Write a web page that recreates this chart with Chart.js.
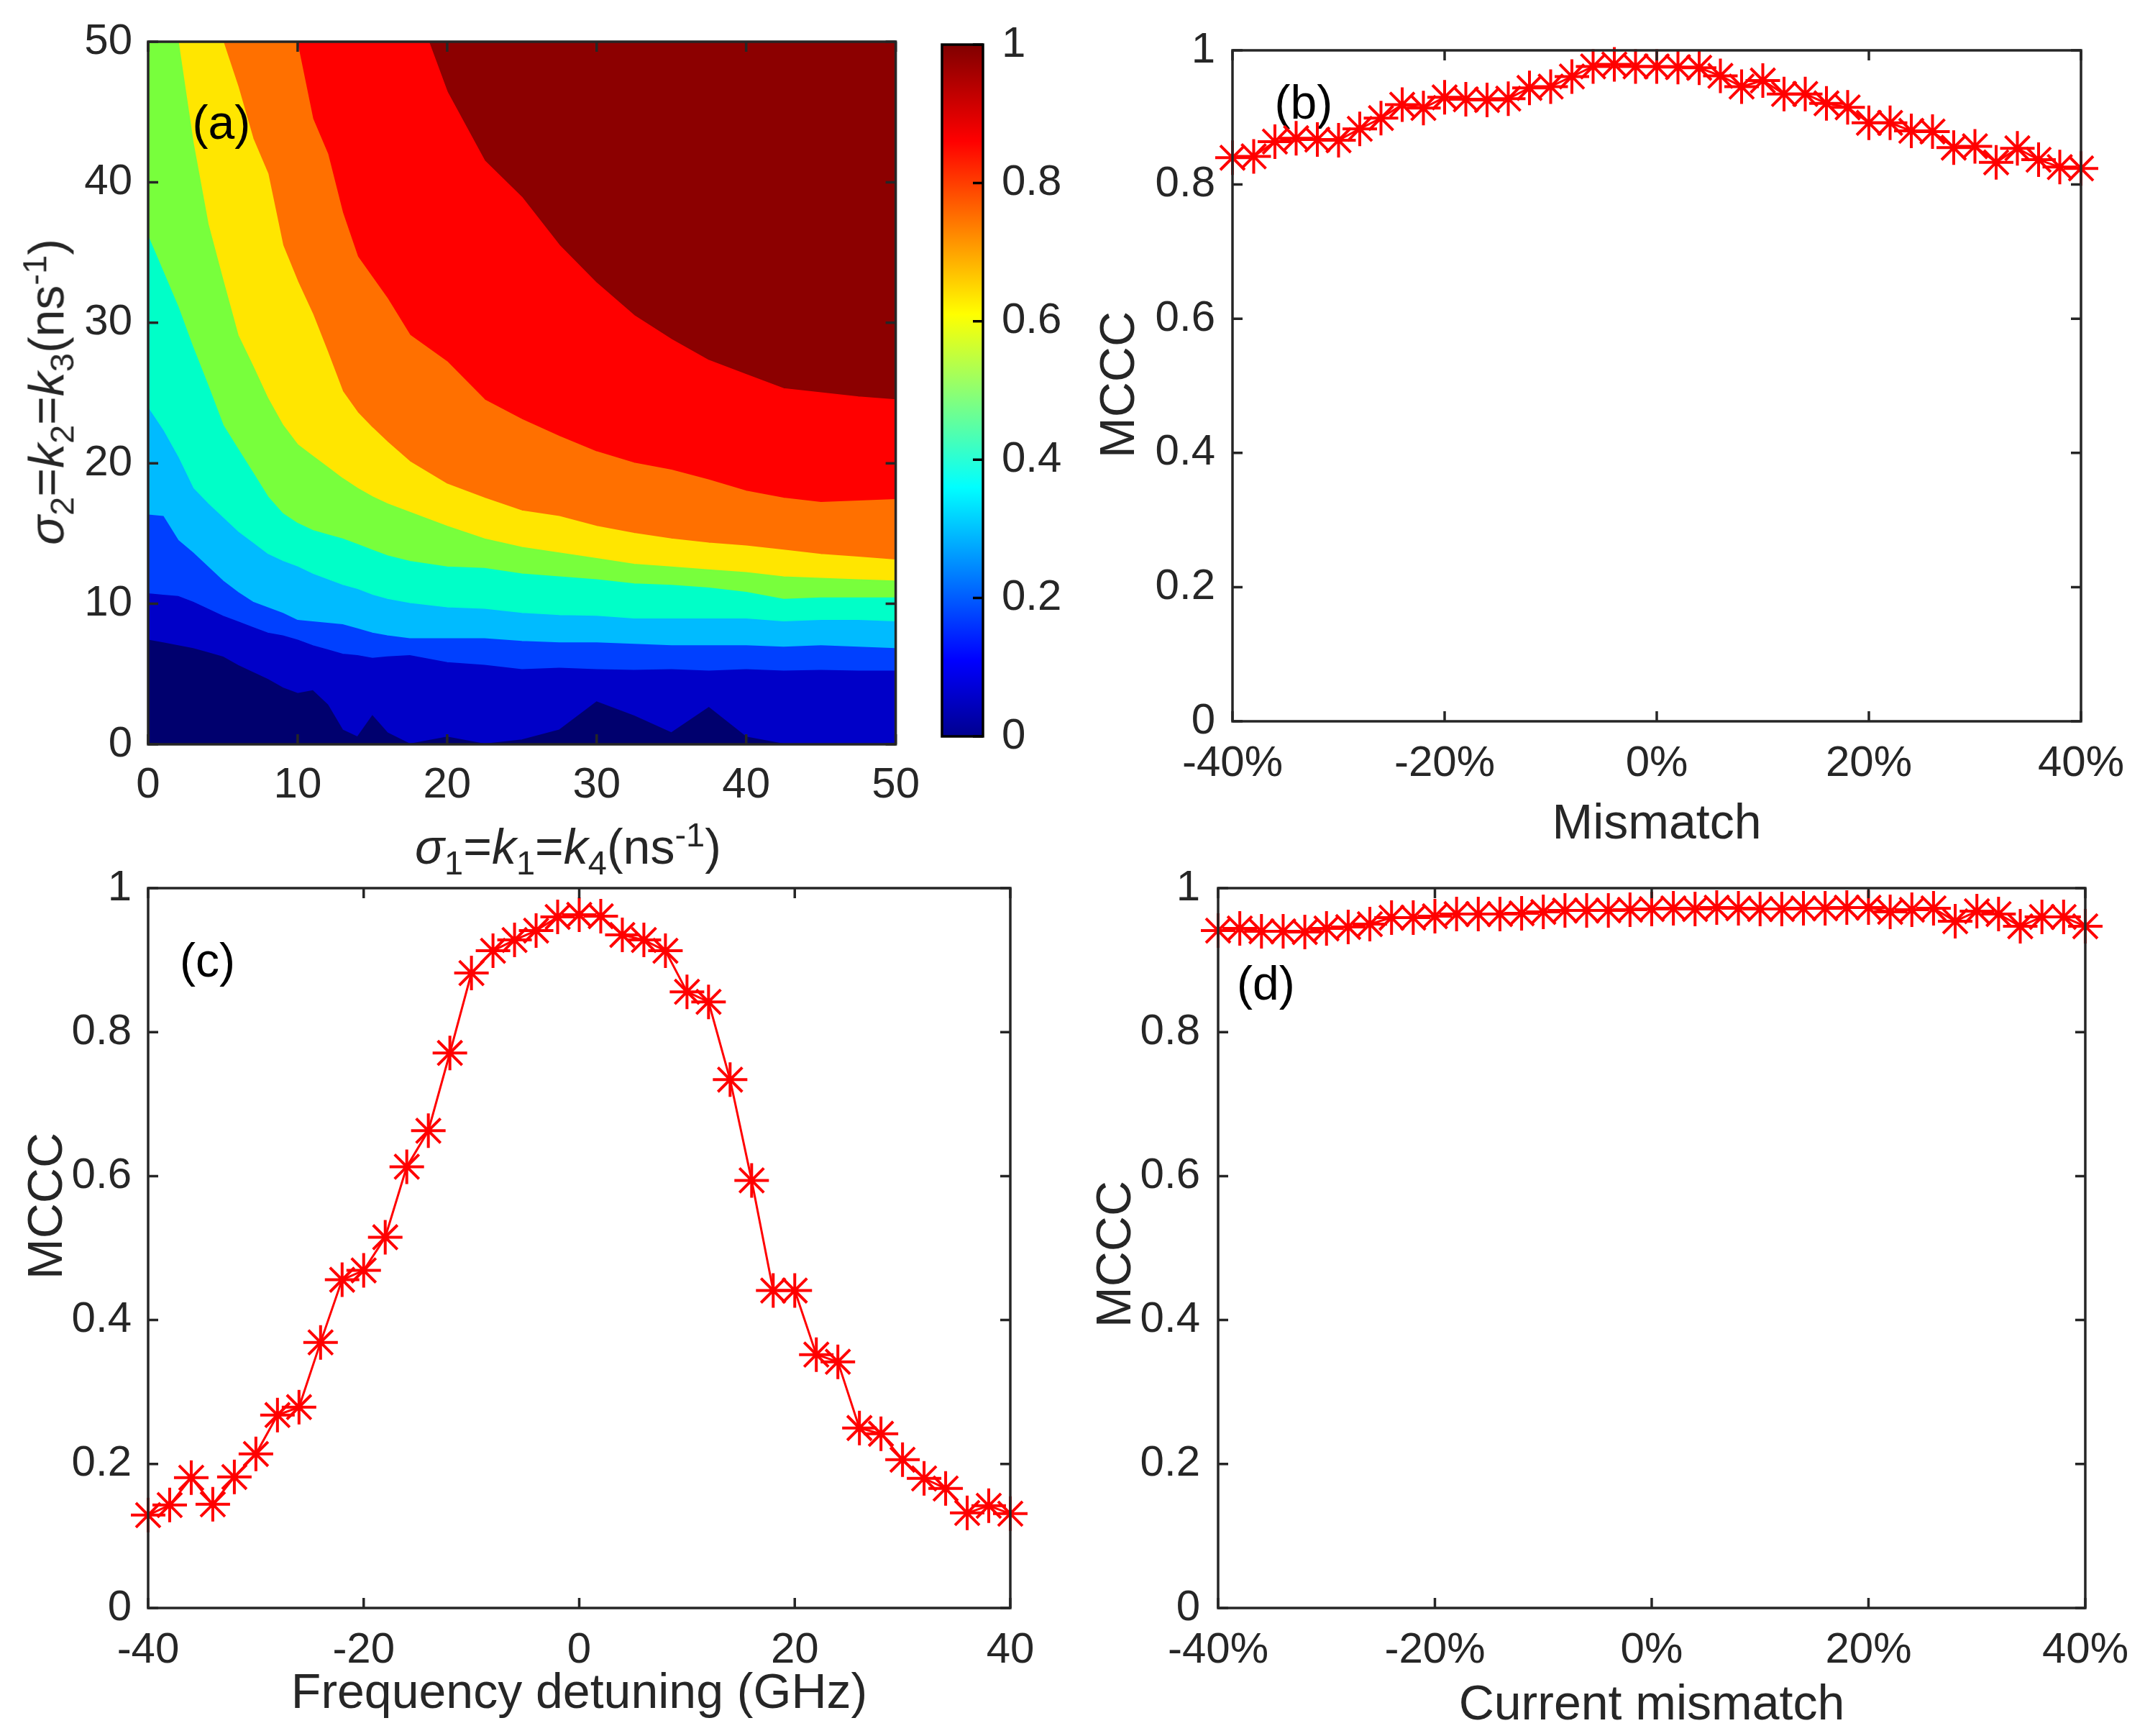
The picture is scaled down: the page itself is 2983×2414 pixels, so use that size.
<!DOCTYPE html>
<html>
<head>
<meta charset="utf-8">
<script src="https://cdn.jsdelivr.net/npm/chart.js@4.4.1/dist/chart.umd.min.js"></script>
<style>
  html, body { margin: 0; padding: 0; background: #fff; overflow: hidden; }
  body { width: 2983px; height: 2414px; position: relative; font-family: "Liberation Sans", Arial, sans-serif; }
  canvas { position: absolute; }
  .axis-title { position: absolute; font-size: 68px; color: #262626; white-space: nowrap; line-height: 1; }
  .axis-title sub, .axis-title sup { font-size: 47px; }
  #titleAx { left: 790px; top: 1180px; transform: translate(-50%, -50%); }
  #titleAy { left: 67px; top: 545px; transform: translate(-50%, -50%) rotate(-90deg); }
</style>
</head>
<body>
<canvas id="panelA" style="left:0;top:0" width="1300" height="1230"></canvas>
<canvas id="colorbar" style="left:1290px;top:0" width="220" height="1100"></canvas>
<canvas id="panelB" style="left:1500px;top:0" width="1483" height="1230"></canvas>
<canvas id="panelC" style="left:0;top:1150px" width="1500" height="1264"></canvas>
<canvas id="panelD" style="left:1500px;top:1150px" width="1483" height="1280"></canvas>
<div class="axis-title" id="titleAx"><i>σ</i><sub>1</sub>=<i>k</i><sub>1</sub>=<i>k</i><sub>4</sub>(ns<sup>-1</sup>)</div>
<div class="axis-title" id="titleAy"><i>σ</i><sub>2</sub>=<i>k</i><sub>2</sub>=<i>k</i><sub>3</sub>(ns<sup>-1</sup>)</div>
<script>
// ---- (a) contour map: sigma1 grid and the iso-MCCC lines (sigma2 at each grid point)
const sigma1Grid = [0, 1, 2, 3, 4, 5, 6, 7, 8, 9, 10, 11, 12, 13, 14, 15, 16, 17.5, 20, 22.5, 25, 27.5, 30, 32.5, 35, 37.5, 40, 42.5, 45, 47.5, 50];
const contour01 = [7.4, 7.2, 7.0, 6.8, 6.5, 6.2, 5.6, 5.1, 4.6, 4.0, 3.6, 3.8, 2.8, 1.0, 0.5, 2.0, 0.8, 0, 0.5, 0, 0.3, 1.0, 3.0, 2.0, 0.8, 2.6, 0.5, 0, 0, 0, 0];
const contour02 = [10.7, 10.6, 10.5, 10.1, 9.6, 9.1, 8.7, 8.3, 7.9, 7.7, 7.4, 7.0, 6.7, 6.4, 6.3, 6.1, 6.2, 6.3, 5.8, 5.6, 5.3, 5.4, 5.3, 5.25, 5.3, 5.2, 5.3, 5.2, 5.25, 5.2, 5.2];
const contour03 = [16.3, 16.2, 14.5, 13.6, 12.6, 11.6, 10.8, 10.1, 9.7, 9.3, 8.8, 8.7, 8.6, 8.5, 8.2, 7.9, 7.7, 7.5, 7.5, 7.5, 7.3, 7.2, 7.2, 7.1, 7.0, 7.0, 7.0, 6.9, 7.0, 6.9, 6.8];
const contour04 = [23.9, 22.3, 20.4, 18.2, 17.1, 16.1, 15.1, 14.3, 13.5, 13.0, 12.6, 12.1, 11.7, 11.3, 11.0, 10.6, 10.3, 10.0, 9.7, 9.6, 9.3, 9.15, 9.1, 8.9, 8.9, 8.9, 8.9, 8.7, 8.8, 8.8, 8.7];
const contour05 = [36.1, 33.6, 31.1, 28.2, 25.5, 22.7, 21.0, 19.3, 17.6, 16.4, 15.7, 15.2, 14.9, 14.6, 14.2, 13.8, 13.4, 13.0, 12.6, 12.5, 12.1, 11.9, 11.7, 11.4, 11.3, 11.1, 10.8, 10.3, 10.4, 10.4, 10.4];
const contour06 = [58, 54, 50, 42.8, 37, 33, 29.1, 26.9, 24.6, 22.7, 21.3, 20.5, 19.7, 18.9, 18.2, 17.6, 17.1, 16.5, 15.5, 14.6, 14.0, 13.6, 13.2, 12.8, 12.6, 12.4, 12.2, 11.9, 11.8, 11.7, 11.6];
const contour07 = [60, 60, 60, 60, 54, 50, 46.8, 43.1, 40.6, 35.5, 32.9, 30.6, 27.9, 25.1, 23.6, 22.5, 21.5, 20.1, 18.5, 17.5, 16.6, 16.2, 15.5, 15.0, 14.6, 14.3, 14.1, 13.8, 13.5, 13.3, 13.1];
const contour08 = [60, 60, 60, 60, 60, 60, 60, 60, 60, 53, 49.7, 44.5, 42.0, 37.8, 34.7, 33.2, 31.7, 29.1, 27.2, 24.5, 23.1, 21.9, 20.8, 20.0, 19.5, 18.8, 18.0, 17.5, 17.2, 17.3, 17.4];
const contour09 = [60, 60, 60, 60, 60, 60, 60, 60, 60, 60, 60, 60, 60, 60, 60, 60, 60, 53.6, 46.4, 41.5, 38.9, 35.5, 32.8, 30.5, 28.8, 27.3, 26.3, 25.3, 25.0, 24.7, 24.5];
const sigmaTicks = [0, 10, 20, 30, 40, 50];
const colorbarTicks = [0, 0.2, 0.4, 0.6, 0.8, 1];

// ---- (b) mismatch
const mismatchPct = [-40, -38, -36, -34, -32, -30, -28, -26, -24, -22, -20, -18, -16, -14, -12, -10, -8, -6, -4, -2, 0, 2, 4, 6, 8, 10, 12, 14, 16, 18, 20, 22, 24, 26, 28, 30, 32, 34, 36, 38, 40];
const mcccMismatch = [0.840, 0.842, 0.864, 0.869, 0.867, 0.866, 0.883, 0.899, 0.919, 0.914, 0.930, 0.927, 0.926, 0.928, 0.944, 0.946, 0.961, 0.976, 0.979, 0.976, 0.976, 0.975, 0.974, 0.962, 0.946, 0.955, 0.935, 0.935, 0.921, 0.915, 0.892, 0.892, 0.880, 0.879, 0.855, 0.857, 0.833, 0.854, 0.837, 0.826, 0.824];

// ---- (c) frequency detuning
const detuningGHz = [-40, -38, -36, -34, -32, -30, -28, -26, -24, -22, -20, -18, -16, -14, -12, -10, -8, -6, -4, -2, 0, 2, 4, 6, 8, 10, 12, 14, 16, 18, 20, 22, 24, 26, 28, 30, 32, 34, 36, 38, 40];
const mcccDetuning = [0.129, 0.143, 0.181, 0.144, 0.182, 0.214, 0.268, 0.279, 0.369, 0.456, 0.469, 0.515, 0.613, 0.663, 0.771, 0.882, 0.913, 0.928, 0.941, 0.960, 0.963, 0.961, 0.935, 0.928, 0.913, 0.856, 0.842, 0.734, 0.594, 0.441, 0.441, 0.352, 0.342, 0.250, 0.242, 0.206, 0.180, 0.166, 0.132, 0.142, 0.131];

// ---- (d) current mismatch
const currentPct = [-40, -38, -36, -34, -32, -30, -28, -26, -24, -22, -20, -18, -16, -14, -12, -10, -8, -6, -4, -2, 0, 2, 4, 6, 8, 10, 12, 14, 16, 18, 20, 22, 24, 26, 28, 30, 32, 34, 36, 38, 40];
const mcccCurrent = [0.941, 0.944, 0.940, 0.940, 0.939, 0.944, 0.946, 0.950, 0.959, 0.959, 0.961, 0.964, 0.964, 0.964, 0.965, 0.967, 0.969, 0.969, 0.969, 0.970, 0.971, 0.972, 0.971, 0.973, 0.972, 0.971, 0.971, 0.972, 0.972, 0.973, 0.973, 0.967, 0.970, 0.972, 0.954, 0.968, 0.964, 0.947, 0.960, 0.960, 0.947];

const pctTicks = [-40, -20, 0, 20, 40];
const ghzTicks = [-40, -20, 0, 20, 40];
const mcccTicks = [0, 0.2, 0.4, 0.6, 0.8, 1];

// ---- styles
const axisColor = '#262626';
const fontFamily = '"Liberation Sans", Arial, sans-serif';
const bandColors = ['#00006E', '#0000C8', '#0040FF', '#00BBFF', '#00FFC8', '#78FF3C', '#FFE600', '#FF7000', '#FF0000', '#8C0000'];
const jetStops = [[0, '#00008F'], [0.11, '#0000FF'], [0.36, '#00FFFF'], [0.61, '#FFFF00'], [0.86, '#FF0000'], [1, '#800000']];
const tickFont = { size: 60 };
const titleFont = { size: 68 };

Chart.defaults.font.family = fontFamily;
Chart.defaults.color = axisColor;

const fmt = v => String(+(+v).toFixed(1));
const useTicks = list => scale => { scale.ticks = list.map(v => ({ value: v })); };

// box with inward tick marks, like a MATLAB axes, plus panel letter and y title
const matlabBox = {
    id: 'matlabBox',
    beforeDatasetsDraw(chart, args, opts) {
        if (opts.label && opts.labelBehind) drawLabel(chart, opts);
    },
    afterDatasetsDraw(chart, args, opts) {
        const { ctx, chartArea: a, scales } = chart;
        const len = 14;
        ctx.save();
        ctx.strokeStyle = opts.color || axisColor;
        ctx.lineWidth = 3.5;
        ctx.beginPath();
        if (scales.x && scales.x.options.display !== false) {
            scales.x.ticks.forEach(t => {
                const px = scales.x.getPixelForValue(t.value);
                ctx.moveTo(px, a.bottom); ctx.lineTo(px, a.bottom - len);
                ctx.moveTo(px, a.top); ctx.lineTo(px, a.top + len);
            });
        }
        scales.y.ticks.forEach(t => {
            const py = scales.y.getPixelForValue(t.value);
            if (!opts.rightOnly) { ctx.moveTo(a.left, py); ctx.lineTo(a.left + len, py); }
            ctx.moveTo(a.right, py); ctx.lineTo(a.right - len, py);
        });
        ctx.stroke();
        ctx.strokeRect(a.left, a.top, a.right - a.left, a.bottom - a.top);
        if (opts.yTitle) {
            ctx.translate(opts.yTitle.x, opts.yTitle.y);
            ctx.rotate(-Math.PI / 2);
            ctx.font = titleFont.size + 'px ' + fontFamily;
            ctx.fillStyle = axisColor;
            ctx.textAlign = 'center';
            ctx.textBaseline = 'middle';
            ctx.fillText(opts.yTitle.text, 0, 0);
        }
        ctx.restore();
        if (opts.label && !opts.labelBehind) drawLabel(chart, opts);
    }
};

function drawLabel(chart, opts) {
    const { ctx, scales } = chart;
    ctx.save();
    ctx.font = '66px ' + fontFamily;
    ctx.fillStyle = '#000';
    ctx.textAlign = 'center';
    ctx.textBaseline = 'middle';
    ctx.fillText(opts.label, scales.x.getPixelForValue(opts.at[0]), scales.y.getPixelForValue(opts.at[1]));
    ctx.restore();
}

const base = {
    responsive: false,
    devicePixelRatio: 1,
    animation: false,
    events: [],
};

// ---------- (a) contour map ----------
const toPoints = ys => sigma1Grid.map((x, i) => ({ x: x, y: ys[i] }));
const contours = [contour01, contour02, contour03, contour04, contour05, contour06, contour07, contour08, contour09];
const bandSets = contours.map((ys, k) => ({
    data: toPoints(ys),
    fill: 'start',
    backgroundColor: bandColors[k],
    borderColor: bandColors[k],
    borderWidth: 2,
    pointRadius: 0,
    tension: 0
}));
bandSets.push({
    data: toPoints(contour09),
    fill: 'end',
    backgroundColor: bandColors[9],
    borderColor: bandColors[9],
    borderWidth: 2,
    pointRadius: 0,
    tension: 0
});

new Chart(document.getElementById('panelA'), {
    type: 'line',
    data: { datasets: bandSets },
    plugins: [matlabBox],
    options: Object.assign({}, base, {
        layout: { padding: { top: 54, right: 46, bottom: 95, left: 0 } },
        plugins: {
            legend: { display: false },
            tooltip: { enabled: false },
            matlabBox: { label: '(a)', at: [4.9, 44] }
        },
        scales: {
            x: {
                type: 'linear', min: 0, max: 50,
                afterBuildTicks: useTicks(sigmaTicks),
                afterFit: s => { s.height = 100; },
                grid: { display: false, drawTicks: false },
                border: { display: false },
                ticks: { font: tickFont, padding: 21, color: axisColor, callback: fmt }
            },
            y: {
                type: 'linear', min: 0, max: 50,
                afterBuildTicks: useTicks(sigmaTicks),
                afterFit: s => { s.width = 206; },
                grid: { display: false, drawTicks: false },
                border: { display: false },
                ticks: { font: tickFont, padding: 22, color: axisColor, callback: fmt }
            }
        }
    })
});

// ---------- colorbar ----------
new Chart(document.getElementById('colorbar'), {
    type: 'bar',
    data: {
        labels: ['MCCC'],
        datasets: [{
            data: [[0, 1]],
            barPercentage: 1,
            categoryPercentage: 1,
            backgroundColor: c => {
                const area = c.chart.chartArea;
                if (!area) return bandColors[0];
                const g = c.chart.ctx.createLinearGradient(0, area.bottom, 0, area.top);
                jetStops.forEach(s => g.addColorStop(s[0], s[1]));
                return g;
            }
        }]
    },
    plugins: [matlabBox],
    options: Object.assign({}, base, {
        layout: { padding: { top: 54, right: 0, bottom: 76, left: 20 } },
        plugins: {
            legend: { display: false },
            tooltip: { enabled: false },
            matlabBox: { rightOnly: true, color: '#000' }
        },
        scales: {
            x: { display: false },
            y: {
                position: 'right', min: 0, max: 1,
                afterBuildTicks: useTicks(colorbarTicks),
                afterFit: s => { s.width = 143; },
                grid: { display: false, drawTicks: false },
                border: { display: false },
                ticks: { font: tickFont, padding: 26, color: axisColor, callback: fmt }
            }
        }
    })
});

// ---------- MCCC line panels ----------
function mcccPanel(id, xs, ys, xTicks, xFmt, xTitle, lay, label) {
    new Chart(document.getElementById(id), {
        type: 'line',
        data: {
            datasets: [{
                data: xs.map((x, i) => ({ x: x, y: ys[i] })),
                borderColor: '#FF0000',
                borderWidth: 3,
                pointStyle: 'star',
                pointRadius: 24,
                pointBorderWidth: 4,
                pointBorderColor: '#FF0000',
                pointBackgroundColor: '#FF0000',
                tension: 0,
                clip: false
            }]
        },
        plugins: [matlabBox],
        options: Object.assign({}, base, {
            layout: { padding: { top: lay.top, right: lay.right, bottom: lay.bottom, left: 0 } },
            plugins: {
                legend: { display: false },
                tooltip: { enabled: false },
                matlabBox: { label: label.text, at: label.at, labelBehind: true, yTitle: { text: 'MCCC', x: lay.ytx, y: lay.yty } }
            },
            scales: {
                x: {
                    type: 'linear', min: -40, max: 40,
                    afterBuildTicks: useTicks(xTicks),
                    afterFit: s => { s.height = lay.xh; },
                    grid: { display: false, drawTicks: false },
                    border: { display: false },
                    ticks: { font: tickFont, padding: lay.xpad, color: axisColor, callback: xFmt },
                    title: { display: true, text: xTitle, font: titleFont, color: axisColor, padding: { top: 0, bottom: 0 } }
                },
                y: {
                    type: 'linear', min: 0, max: 1,
                    afterBuildTicks: useTicks(mcccTicks),
                    afterFit: s => { s.width = lay.yw; },
                    grid: { display: false, drawTicks: false },
                    border: { display: false },
                    ticks: { font: tickFont, padding: lay.ypad, color: axisColor, callback: fmt }
                }
            }
        })
    });
}

const pctFmt = v => v + '%';
const numFmt = v => String(v);

mcccPanel('panelB', mismatchPct, mcccMismatch, pctTicks, pctFmt, 'Mismatch',
    { top: 70, right: 89, bottom: 42, xh: 185, xpad: 23, yw: 214, ypad: 24, ytx: 58, yty: 535 },
    { text: '(b)', at: [-33.3, 0.918] });

mcccPanel('panelC', detuningGHz, mcccDetuning, ghzTicks, numFmt, 'Frequency detuning (GHz)',
    { top: 85, right: 95, bottom: 17, xh: 161, xpad: 23, yw: 206, ypad: 23, ytx: 67, yty: 527 },
    { text: '(c)', at: [-34.5, 0.895] });

mcccPanel('panelD', currentPct, mcccCurrent, pctTicks, pctFmt, 'Current mismatch',
    { top: 85, right: 82, bottom: 17, xh: 177, xpad: 23, yw: 194, ypad: 25, ytx: 53, yty: 594 },
    { text: '(d)', at: [-35.6, 0.863] });
</script>
</body>
</html>
